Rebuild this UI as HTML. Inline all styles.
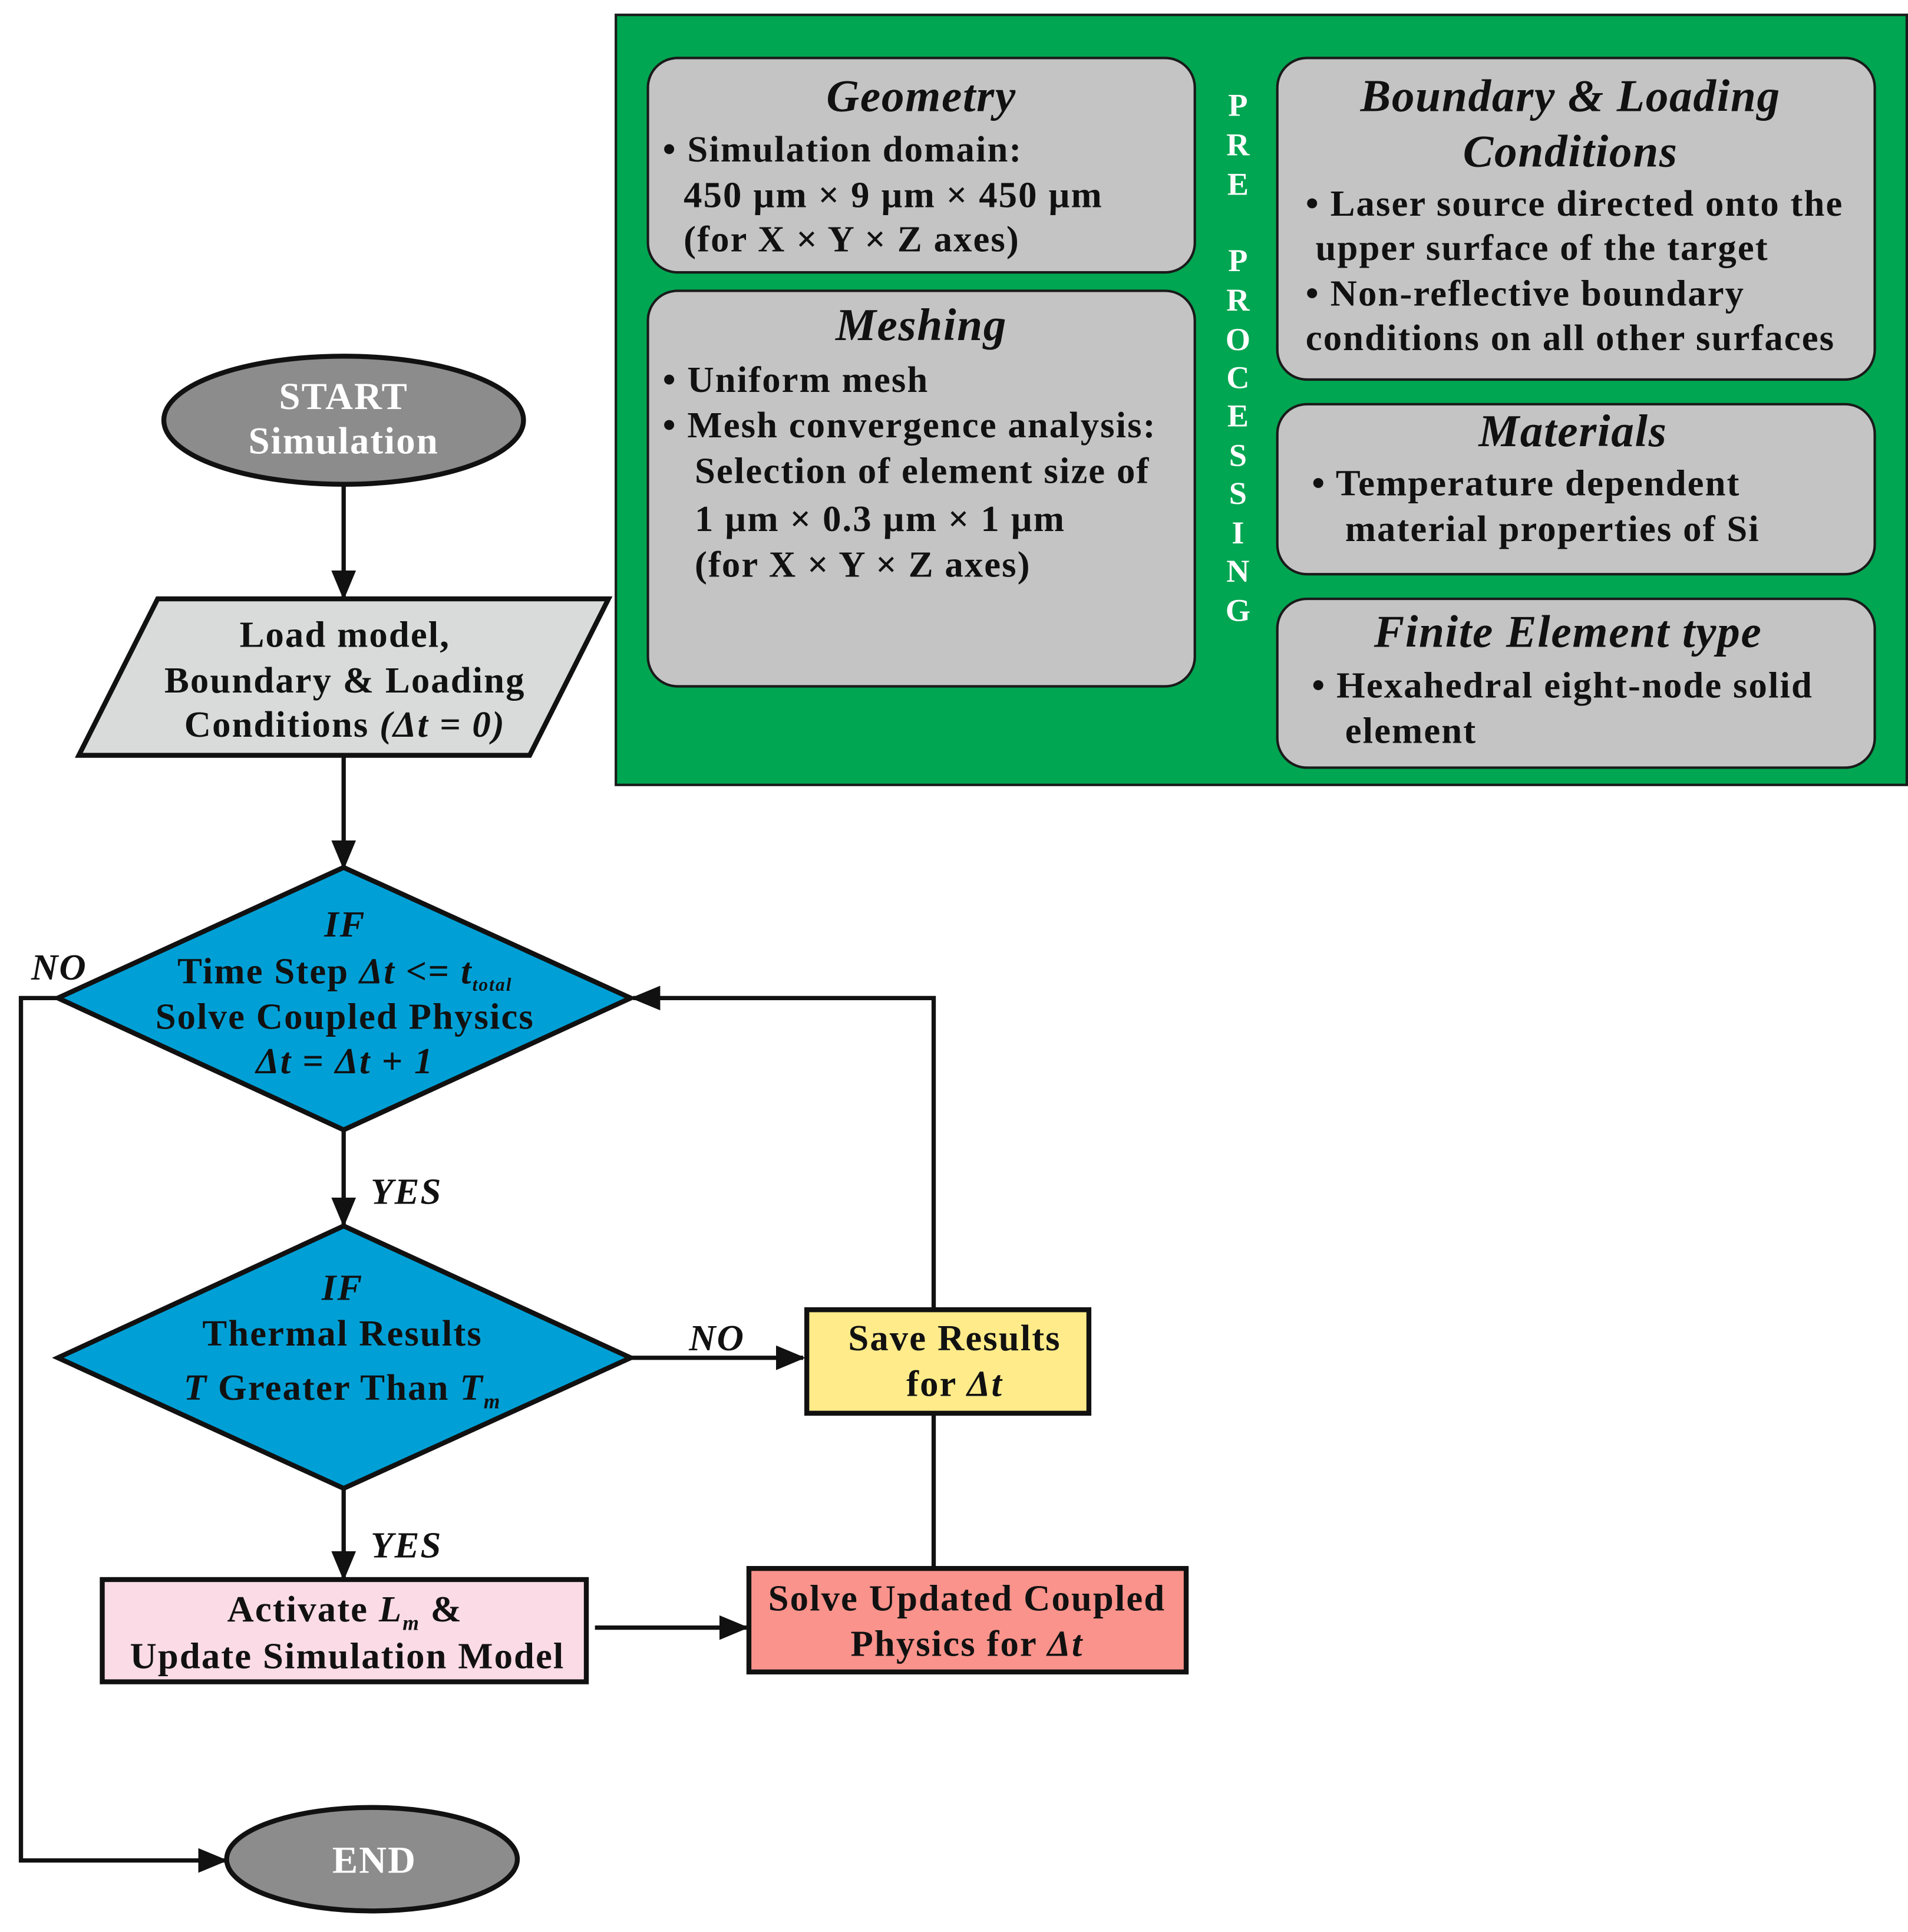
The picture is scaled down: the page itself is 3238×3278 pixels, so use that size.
<!DOCTYPE html>
<html><head><meta charset="utf-8"><style>
html,body{margin:0;padding:0;background:#fff}
svg{display:block}
text{font-family:"Liberation Serif",serif;font-weight:bold;fill:#111}
.t{font-style:italic;font-size:37px;letter-spacing:0.8px}
.b{font-size:30px;letter-spacing:1px}
.w{fill:#fff}
.i{font-style:italic}
</style></head><body>
<svg width="3238" height="3278" viewBox="0 0 1549 1568" xmlns="http://www.w3.org/2000/svg">
<defs>
<marker id="ah" markerWidth="24" markerHeight="24" refX="22" refY="12" orient="auto" markerUnits="userSpaceOnUse"><path d="M0,2 L24,12 L0,22 z" fill="#111"/></marker></defs>

<rect x="500" y="12" width="1048" height="625" fill="#00a651" stroke="#1a1a1a" stroke-width="2"/>
<g fill="#c4c4c4" stroke="#1a1a1a" stroke-width="2">
<rect x="526" y="47" width="444" height="174" rx="24"/>
<rect x="526" y="236" width="444" height="321" rx="24"/>
<rect x="1037" y="47" width="485" height="261" rx="24"/>
<rect x="1037" y="328" width="485" height="138" rx="24"/>
<rect x="1037" y="486" width="485" height="137" rx="24"/>
</g>
<text class="t" x="748" y="90" text-anchor="middle">Geometry</text>
<text class="b" x="538" y="131">• Simulation domain:</text>
<text class="b" x="555" y="168">450 µm × 9 µm × 450 µm</text>
<text class="b" x="555" y="204">(for X × Y × Z axes)</text>
<text class="t" x="748" y="276" text-anchor="middle">Meshing</text>
<text class="b" x="538" y="318">• Uniform mesh</text>
<text class="b" x="538" y="355">• Mesh convergence analysis:</text>
<text class="b" x="564" y="392">Selection of element size of</text>
<text class="b" x="564" y="431">1 µm × 0.3 µm × 1 µm</text>
<text class="b" x="564" y="468">(for X × Y × Z axes)</text>
<text class="t" x="1275" y="90" text-anchor="middle">Boundary &amp; Loading</text>
<text class="t" x="1275" y="135" text-anchor="middle">Conditions</text>
<text class="b" x="1060" y="175">• Laser source directed onto the</text>
<text class="b" x="1068" y="211">upper surface of the target</text>
<text class="b" x="1060" y="248">• Non-reflective boundary</text>
<text class="b" x="1060" y="284">conditions on all other surfaces</text>
<text class="t" x="1277" y="362" text-anchor="middle">Materials</text>
<text class="b" x="1065" y="402">• Temperature dependent</text>
<text class="b" x="1092" y="439">material properties of Si</text>
<text class="t" x="1273" y="525" text-anchor="middle">Finite Element type</text>
<text class="b" x="1065" y="566">• Hexahedral eight-node solid</text>
<text class="b" x="1092" y="603">element</text>
<g font-size="26" text-anchor="middle">
<text class="w" x="1005" y="94">P</text><text class="w" x="1005" y="126">R</text><text class="w" x="1005" y="158">E</text>
<text class="w" x="1005" y="220">P</text><text class="w" x="1005" y="252">R</text><text class="w" x="1005" y="284">O</text>
<text class="w" x="1005" y="315">C</text><text class="w" x="1005" y="346">E</text><text class="w" x="1005" y="378">S</text>
<text class="w" x="1005" y="409">S</text><text class="w" x="1005" y="441">I</text><text class="w" x="1005" y="472">N</text>
<text class="w" x="1005" y="504">G</text>
</g>

<g stroke="#111" stroke-width="3.5" fill="none">
<line x1="279" y1="393" x2="279" y2="485" marker-end="url(#ah)"/>
<line x1="279" y1="613" x2="279" y2="704" marker-end="url(#ah)"/>
<line x1="279" y1="917" x2="279" y2="994" marker-end="url(#ah)"/>
<line x1="279" y1="1208" x2="279" y2="1281" marker-end="url(#ah)"/>
<line x1="512" y1="1102" x2="652" y2="1102" marker-end="url(#ah)"/>
<line x1="483" y1="1321" x2="606" y2="1321" marker-end="url(#ah)"/>
<polyline points="758,1063 758,810 514,810" marker-end="url(#ah)"/>
<line x1="758" y1="1147" x2="758" y2="1273"/>
<polyline points="47,810 17,810 17,1510 183,1510" marker-end="url(#ah)"/>
</g>

<ellipse cx="279" cy="341" rx="146" ry="52" fill="#8c8c8c" stroke="#111" stroke-width="4"/>
<text class="w" x="279" y="332" font-size="31" letter-spacing="1" text-anchor="middle">START</text>
<text class="w" x="279" y="368" font-size="31" letter-spacing="1" text-anchor="middle">Simulation</text>

<polygon points="128,486 494,486 430,613 64,613" fill="#d9dbdb" stroke="#111" stroke-width="4"/>
<text class="b" x="280" y="525" text-anchor="middle">Load model,</text>
<text class="b" x="280" y="562" text-anchor="middle">Boundary &amp; Loading</text>
<text class="b" x="280" y="598" text-anchor="middle">Conditions <tspan class="i">(Δt = 0)</tspan></text>

<polygon points="279,704 512,810 279,917 47,810" fill="#00a0d6" stroke="#111" stroke-width="4"/>
<text class="b i" x="280" y="760" text-anchor="middle">IF</text>
<text class="b" x="280" y="798" text-anchor="middle">Time Step <tspan class="i">Δt</tspan> &lt;= <tspan class="i">t<tspan font-size="15" dy="6">total</tspan></tspan></text>
<text class="b" x="280" y="835" text-anchor="middle">Solve Coupled Physics</text>
<text class="b i" x="280" y="871" text-anchor="middle">Δt = Δt + 1</text>
<text class="b i" x="48" y="795" text-anchor="middle">NO</text>
<text class="b i" x="330" y="977" text-anchor="middle">YES</text>

<polygon points="279,995 512,1102 279,1208 47,1102" fill="#00a0d6" stroke="#111" stroke-width="4"/>
<text class="b i" x="278" y="1055" text-anchor="middle">IF</text>
<text class="b" x="278" y="1092" text-anchor="middle">Thermal Results</text>
<text class="b" x="278" y="1136" text-anchor="middle"><tspan class="i">T</tspan> Greater Than <tspan class="i">T<tspan font-size="17" dy="7">m</tspan></tspan></text>
<text class="b i" x="582" y="1096" text-anchor="middle">NO</text>
<text class="b i" x="330" y="1264" text-anchor="middle">YES</text>

<rect x="655" y="1063" width="229" height="84" fill="#ffeb8a" stroke="#111" stroke-width="4"/>
<text class="b" x="775" y="1096" text-anchor="middle">Save Results</text>
<text class="b" x="775" y="1133" text-anchor="middle">for <tspan class="i">Δt</tspan></text>

<rect x="608" y="1273" width="355" height="84" fill="#f9938b" stroke="#111" stroke-width="4"/>
<text class="b" x="785" y="1307" text-anchor="middle">Solve Updated Coupled</text>
<text class="b" x="785" y="1344" text-anchor="middle">Physics for <tspan class="i">Δt</tspan></text>

<rect x="83" y="1282" width="393" height="83" fill="#fadbe6" stroke="#111" stroke-width="4"/>
<text class="b" x="280" y="1316" text-anchor="middle">Activate <tspan class="i">L<tspan font-size="17" dy="7">m</tspan></tspan><tspan dy="-7"> &amp;</tspan></text>
<text class="b" x="282" y="1354" text-anchor="middle">Update Simulation Model</text>

<ellipse cx="302" cy="1509" rx="118" ry="42" fill="#8c8c8c" stroke="#111" stroke-width="4"/>
<text class="w" x="304" y="1520" font-size="31" letter-spacing="1" text-anchor="middle">END</text>
</svg>
</body></html>
